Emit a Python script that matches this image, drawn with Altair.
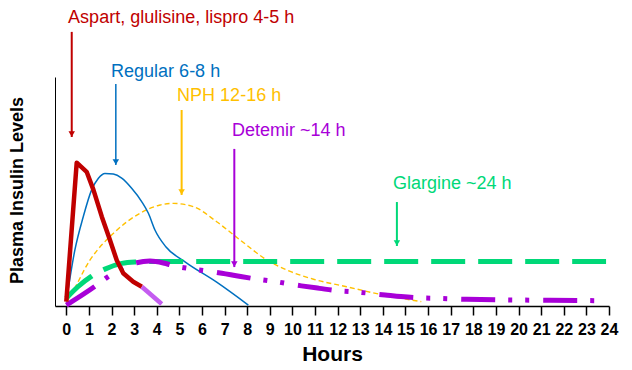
import altair as alt
import pandas as pd

# ---- data (hours, relative plasma insulin level 0-100) ----
aspart_h = [0, 0.46, 0.9, 1.2, 1.57, 1.93, 2.23, 2.52, 2.96, 3.34]
aspart_v = [1.9, 62.6, 58.6, 50.7, 39.0, 28.8, 20.0, 14.3, 10.6, 8.4]
aspart_tail_h = [3.34, 4.22]
aspart_tail_v = [8.4, 0.9]

regular_h = [0, 0.38, 0.75, 1.12, 1.42, 1.71, 2.08, 2.45, 2.89, 3.34, 3.63, 3.92, 4.4, 5.25, 6.65, 8.05]
regular_v = [2.0, 24.5, 39.0, 50.7, 55.8, 57.9, 57.6, 55.8, 51.4, 45.5, 40.5, 33.2, 25.9, 19.3, 10.4, 0.4]

nph_h = [0, 0.16, 1.05, 2.08, 3.26, 4.15, 4.73, 5.62, 6.65, 7.69, 8.87, 9.9, 10.93, 12.4, 13.88, 15.7]
nph_v = [1.5, 4.0, 20.1, 31.7, 40.5, 44.1, 44.8, 43.4, 36.8, 28.8, 20.1, 15.1, 11.7, 8.4, 5.1, 1.9]

glargine_h = [0, 0.5, 1.09, 1.68, 2.45, 3.04, 3.92, 23.87]
glargine_v = [3.4, 8.3, 12.8, 16.0, 18.6, 19.2, 19.4, 19.4]

detemir_h = [0, 1.24, 1.79, 2.45, 3.11, 3.7, 4.29, 4.77, 5.47, 6.88, 7.58, 8.32, 9.01, 10.4,
             11.2, 11.96, 12.6, 14.1, 14.8, 15.5, 16.2, 17.7, 19.9, 21.4, 23.7]
detemir_v = [0.4, 8.4, 12.4, 16.5, 18.9, 19.6, 18.8, 17.5, 16.3, 14.3, 13.1, 11.9, 11.0, 8.8,
             7.7, 6.7, 6.3, 4.8, 4.1, 3.6, 3.4, 2.9, 2.6, 2.5, 2.3]

labels = ["Aspart, glulisine, lispro 4-5 h", "Regular 6-8 h", "NPH 12-16 h", "Detemir ~14 h", "Glargine ~24 h"]
label_h = [0.08, 1.98, 4.9, 7.33, 14.45]
label_v = [123.5, 100.0, 89.5, 74.2, 51.1]
arrow_h = [0.24, 2.19, 5.1, 7.43, 14.62]
arrow_top = [119.7, 96.9, 85.6, 68.6, 45.4]
arrow_tip = [73.8, 61.6, 48.5, 17.0, 26.2]
colors = ["#c00000", "#0070c0", "#ffc000", "#a800d8", "#00d878"]
arrow_w = [2, 1.5, 2, 2, 2]

hour_ticks = list(range(0, 25))

FONT = "Liberation Sans"

xs = alt.Scale(domain=[-0.5, 24], nice=False, zero=False)
ys = alt.Scale(domain=[0, 100], nice=False, zero=False)

X = alt.X("h:Q", scale=xs, axis=alt.Axis(
    values=hour_ticks, title="Hours", grid=False, labelOverlap=False, labelFlush=False,
    tickSize=9, tickWidth=1.5, tickColor="black", domainColor="black", domainWidth=1.5,
    labelFont=FONT, labelFontSize=16, labelFontWeight="bold", labelColor="black", labelPadding=6,
    titleFont=FONT, titleFontSize=21, titleFontWeight="bold", titleColor="black",
    titleY=54, titleBaseline="alphabetic"))
Y = alt.Y("v:Q", scale=ys, axis=alt.Axis(
    title="Plasma Insulin Levels", grid=False, ticks=False, labels=False,
    domainColor="black", domainWidth=1,
    titleFont=FONT, titleFontSize=18, titleFontWeight="bold", titleColor="black",
    titleX=-37.5, titleY=113, titleAngle=-90, titleAlign="center", titleBaseline="middle"))


def series(h, v):
    return pd.DataFrame({"h": h, "v": v})


nph = alt.Chart(series(nph_h, nph_v)).mark_line(
    color=colors[2], strokeWidth=1.4, strokeDash=[5, 3], interpolate="monotone").encode(x=X, y=Y)
regular = alt.Chart(series(regular_h, regular_v)).mark_line(
    color=colors[1], strokeWidth=1.5, interpolate="monotone").encode(x=X, y=Y)
glargine = alt.Chart(series(glargine_h, glargine_v)).mark_line(
    color=colors[4], strokeWidth=5, strokeDash=[34, 13], strokeCap="butt",
    interpolate="monotone").encode(x=X, y=Y)
detemir = alt.Chart(series(detemir_h, detemir_v)).mark_line(
    color=colors[3], strokeWidth=5, strokeDash=[34, 13, 4, 13, 4, 14], strokeCap="butt",
    interpolate="monotone").encode(x=X, y=Y)
aspart = alt.Chart(series(aspart_h, aspart_v)).mark_line(
    color=colors[0], strokeWidth=4.5, strokeJoin="round").encode(x=X, y=Y)
aspart_tail = alt.Chart(series(aspart_tail_h, aspart_tail_v)).mark_line(
    color="#c45cf0", strokeWidth=4.5).encode(x=X, y=Y)

arrows_df = pd.DataFrame({"h": arrow_h, "v": arrow_top, "v2": arrow_tip,
                          "color": colors, "w": arrow_w})
tips_df = pd.DataFrame({"h": arrow_h, "v": arrow_tip, "color": colors})
text_df = pd.DataFrame({"h": label_h, "v": label_v, "label": labels, "color": colors})

cscale = alt.Scale(domain=colors, range=colors)

rules = alt.Chart(arrows_df).mark_rule().encode(
    x=X, y=Y, y2=alt.Y2("v2:Q"),
    color=alt.Color("color:N", scale=cscale, legend=None),
    strokeWidth=alt.StrokeWidth("w:Q", scale=None, legend=None))

heads = alt.Chart(tips_df).mark_point(shape="triangle-down", filled=True, size=42, opacity=1, yOffset=-3).encode(
    x=X, y=Y,
    color=alt.Color("color:N", scale=cscale, legend=None))

texts = alt.Chart(text_df).mark_text(
    align="left", baseline="alphabetic", font=FONT, fontSize=18).encode(
    x=X, y=Y,
    text="label:N",
    color=alt.Color("color:N", scale=cscale, legend=None))

chart = alt.layer(nph, regular, glargine, detemir, aspart, aspart_tail, rules, heads, texts).properties(
    width=554, height=229,
    autosize=alt.AutoSizeParams(type="none"),
    padding={"left": 47, "top": 69, "right": 15, "bottom": 58},
    background="white",
).configure_view(strokeWidth=0)

chart.save("out.html", embed_options={"renderer": "svg", "actions": False})
